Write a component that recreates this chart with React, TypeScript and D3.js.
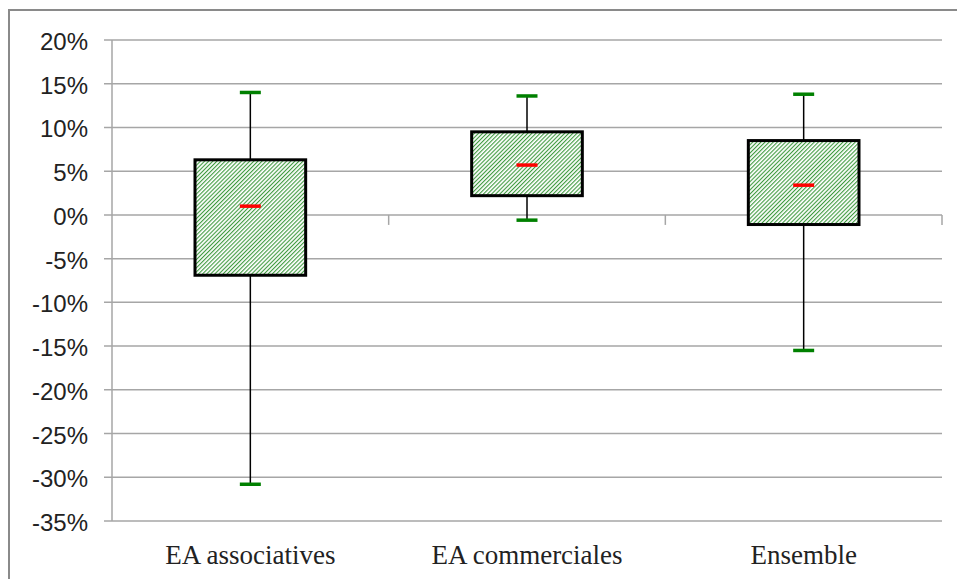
import React from 'react';
import * as d3 from 'd3';

// valeurs (en %)
const categories = ['EA associatives', 'EA commerciales', 'Ensemble'];
const maxValues = [14.0, 13.6, 13.8];
const q3Values = [6.3, 9.5, 8.5];
const medianValues = [1.0, 5.7, 3.4];
const q1Values = [-6.9, 2.2, -1.1];
const minValues = [-30.8, -0.6, -15.5];
const yTicks = [20, 15, 10, 5, 0, -5, -10, -15, -20, -25, -30, -35];

const width = 957;
const height = 579;
const plot = { left: 112, right: 942, top: 40, bottom: 521 };

const App = () => {
  const x = d3.scaleBand<string>()
    .domain(categories)
    .range([plot.left, plot.right]);

  const y = d3.scaleLinear()
    .domain([-35, 20])
    .range([plot.bottom, plot.top]);

  const boxW = x.bandwidth() * 0.4;
  const capW = 21;
  const y0 = y(0);

  const boxes = categories.map((c, i) => ({
    name: c,
    cx: (x(c) as number) + x.bandwidth() / 2,
    max: maxValues[i],
    q3: q3Values[i],
    med: medianValues[i],
    q1: q1Values[i],
    min: minValues[i],
  }));

  return (
    <svg width={width} height={height} style={{ position: 'absolute', left: 0, top: 0, background: '#fff' }}>
      <defs>
        <pattern id="hatch" patternUnits="userSpaceOnUse" width="2.9" height="2.9" patternTransform="rotate(45)">
          <rect x="0" y="0" width="2.9" height="2.9" fill="#fff" />
          <rect x="0" y="0" width="1.1" height="2.9" fill="#3f9a3f" />
        </pattern>
      </defs>

      {/* cadre */}
      <path d={`M9,${height} V10 H${width}`} fill="none" stroke="#8a8a8a" strokeWidth={2} />

      {/* grille */}
      {yTicks.filter(t => t !== 0).map(t => (
        <line key={t} x1={plot.left - 8} x2={plot.right} y1={y(t)} y2={y(t)} stroke="#a6a6a6" strokeWidth={1.5} />
      ))}
      <line x1={plot.left} x2={plot.left} y1={plot.top} y2={plot.bottom} stroke="#a6a6a6" strokeWidth={1.5} />

      {/* axe des catégories sur 0 */}
      <line x1={plot.left - 8} x2={plot.right} y1={y0} y2={y0} stroke="#a6a6a6" strokeWidth={1.5} />
      {categories.map(c => (
        <line key={c} x1={(x(c) as number) + x.bandwidth()} x2={(x(c) as number) + x.bandwidth()}
          y1={y0} y2={y0 + 10} stroke="#a6a6a6" strokeWidth={1.5} />
      ))}

      {/* libellés axe Y */}
      {yTicks.map(t => (
        <text key={t} x={88} y={y(t)} dy={10} textAnchor="end"
          fontFamily="'Liberation Sans', Arial, sans-serif" fontSize={24} fill="#222">
          {t}%
        </text>
      ))}

      {/* boîtes */}
      {boxes.map(b => (
        <g key={b.name}>
          <line x1={b.cx} x2={b.cx} y1={y(b.max)} y2={y(b.q3)} stroke="#000" strokeWidth={1.5} />
          <line x1={b.cx} x2={b.cx} y1={y(b.q1)} y2={y(b.min)} stroke="#000" strokeWidth={1.5} />
          <rect x={b.cx - boxW / 2} y={y(b.q3)} width={boxW} height={y(b.q1) - y(b.q3)}
            fill="url(#hatch)" stroke="#000" strokeWidth={3} />
          <line x1={b.cx - capW / 2} x2={b.cx + capW / 2} y1={y(b.max)} y2={y(b.max)} stroke="#008000" strokeWidth={3.5} />
          <line x1={b.cx - capW / 2} x2={b.cx + capW / 2} y1={y(b.min)} y2={y(b.min)} stroke="#008000" strokeWidth={3.5} />
          <line x1={b.cx - capW / 2} x2={b.cx + capW / 2} y1={y(b.med)} y2={y(b.med)} stroke="#ff0000" strokeWidth={3.5} />
        </g>
      ))}

      {/* libellés catégories */}
      {boxes.map(b => (
        <text key={b.name} x={b.cx} y={564} textAnchor="middle"
          fontFamily="'Liberation Serif', 'Times New Roman', serif" fontSize={27} fill="#222">
          {b.name}
        </text>
      ))}
    </svg>
  );
};

export default App;
